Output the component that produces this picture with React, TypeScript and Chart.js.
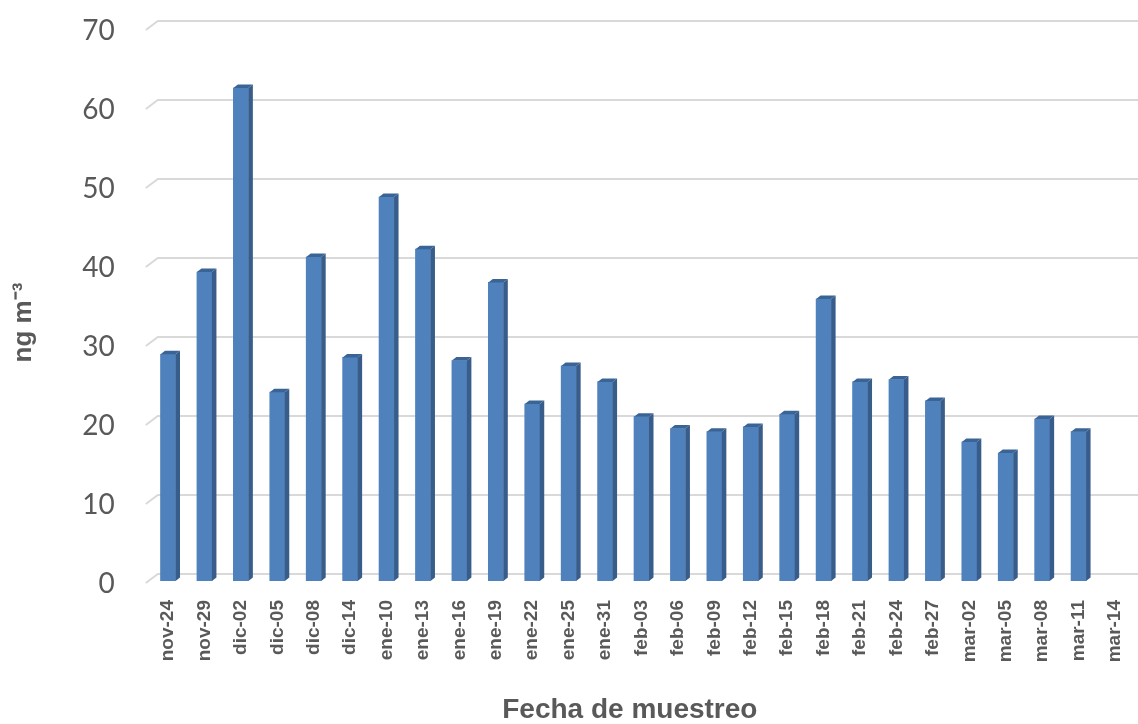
import React, { useEffect, useRef } from 'react';
import { Chart, registerables } from 'chart.js';

Chart.register(...registerables);

const categories: string[] = [
  'nov-24', 'nov-29', 'dic-02', 'dic-05', 'dic-08', 'dic-14', 'ene-10', 'ene-13', 'ene-16',
  'ene-19', 'ene-22', 'ene-25', 'ene-31', 'feb-03', 'feb-06', 'feb-09', 'feb-12', 'feb-15',
  'feb-18', 'feb-21', 'feb-24', 'feb-27', 'mar-02', 'mar-05', 'mar-08', 'mar-11', 'mar-14',
];

const values: (number | null)[] = [
  28.7, 39.1, 62.4, 23.9, 41.0, 28.3, 48.6, 42.0, 27.9,
  37.8, 22.4, 27.2, 25.2, 20.8, 19.3, 18.9, 19.5, 21.1,
  35.7, 25.2, 25.5, 22.8, 17.6, 16.2, 20.5, 18.9, null,
];

const yTicks: number[] = [0, 10, 20, 30, 40, 50, 60, 70];

const xTitle = 'Fecha de muestreo';
const yTitle = 'ng m\u207B\u00B3';

const FRONT = '#4F81BD';
const SIDE = '#385D8A';
const TOP = '#3B6496';
const GRID = '#D9D9D9';
const TEXT = '#595959';
const DX = 4.5;
const DY = 3.5;

const grid3d = {
  id: 'grid3d',
  beforeDatasetsDraw(chart: any) {
    const { ctx, chartArea, scales } = chart;
    const ys = scales.y;
    ctx.save();
    ctx.strokeStyle = GRID;
    ctx.lineWidth = 2;
    for (const v of yTicks) {
      const py = ys.getPixelForValue(v);
      ctx.beginPath();
      ctx.moveTo(chartArea.left - 4, py + 2);
      ctx.lineTo(chartArea.left + 8, py - 7);
      ctx.lineTo(chart.width, py - 7);
      ctx.stroke();
    }
    ctx.restore();
  },
};

const bars3d = {
  id: 'bars3d',
  afterDatasetsDraw(chart: any) {
    const { ctx } = chart;
    const meta = chart.getDatasetMeta(0);
    ctx.save();
    meta.data.forEach((el: any, i: number) => {
      if (values[i] == null) return;
      const { x, y, base, width } = el.getProps(['x', 'y', 'base', 'width'], true);
      const l = x - width / 2;
      const r = x + width / 2;
      ctx.fillStyle = SIDE;
      ctx.beginPath();
      ctx.moveTo(r, y);
      ctx.lineTo(r + DX, y - DY);
      ctx.lineTo(r + DX, base - DY);
      ctx.lineTo(r, base);
      ctx.closePath();
      ctx.fill();
      ctx.fillStyle = TOP;
      ctx.beginPath();
      ctx.moveTo(l, y);
      ctx.lineTo(l + DX, y - DY);
      ctx.lineTo(r + DX, y - DY);
      ctx.lineTo(r, y);
      ctx.closePath();
      ctx.fill();
    });
    ctx.restore();
  },
};

export default function App() {
  const ref = useRef<HTMLCanvasElement | null>(null);

  useEffect(() => {
    if (!ref.current) return;
    const chart = new Chart(ref.current, {
      type: 'bar',
      data: {
        labels: categories,
        datasets: [
          {
            label: 'ng m-3',
            data: values,
            backgroundColor: FRONT,
            borderWidth: 0,
            barThickness: 15,
          },
        ],
      },
      options: {
        responsive: false,
        animation: false,
        layout: { padding: { top: 28, right: 4.8, left: 0, bottom: 0 } },
        plugins: {
          legend: { display: false },
          tooltip: { enabled: false },
        },
        scales: {
          x: {
            offset: true,
            grid: { display: false, drawTicks: true, tickLength: 19 },
            border: { display: false },
            ticks: {
              autoSkip: false,
              minRotation: 90,
              maxRotation: 90,
              padding: 0,
              color: TEXT,
              font: { family: '"Liberation Sans", Arial, sans-serif', size: 19, weight: 'bold' },
            },
            title: {
              display: true,
              text: xTitle + '\u00A0\u00A0\u00A0',
              color: TEXT,
              padding: { top: 0, bottom: 0 },
              font: { family: '"Liberation Sans", Arial, sans-serif', size: 28, weight: 'bold', lineHeight: 1 },
            },
            afterFit(scale: any) {
              scale.height = 143;
            },
          },
          y: {
            min: 0,
            max: 70,
            grid: { display: false, drawTicks: true, tickLength: 35 },
            border: { display: false },
            ticks: {
              stepSize: 10,
              padding: 0,
              labelOffset: 3,
              color: TEXT,
              font: { family: 'Lato, "Open Sans", sans-serif', size: 28 },
            },
            title: {
              display: true,
              text: yTitle + '\u00A0\u00A0\u00A0\u00A0\u00A0',
              color: TEXT,
              padding: { top: 11, bottom: 0 },
              font: { family: '"Liberation Sans", Arial, sans-serif', size: 26, weight: 'bold', lineHeight: 1 },
            },
            afterFit(scale: any) {
              scale.width = 149.8;
            },
          },
        },
      },
      plugins: [grid3d, bars3d],
    } as any);
    return () => chart.destroy();
  }, []);

  return (
    <div style={{ position: 'absolute', left: 0, top: 0, width: 1138, height: 724, background: '#fff' }}>
      <canvas ref={ref} width={1138} height={724} style={{ display: 'block' }} />
    </div>
  );
}
